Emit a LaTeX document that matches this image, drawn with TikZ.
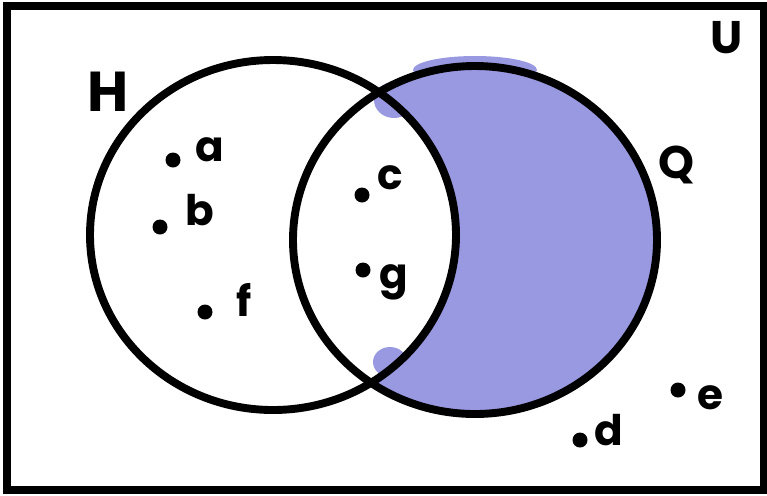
\documentclass[tikz,border=0pt]{standalone}
\usepackage{fontspec}
\setmainfont{Poppins}
\definecolor{vennblue}{RGB}{153,153,226}
\tikzset{
  dot/.style={circle, fill=black, inner sep=0pt, minimum size=0.3cm},
  lbl/.style={inner sep=0pt, font=\fontsize{24}{28}\selectfont\bfseries},
  setname/.style={inner sep=0pt, font=\fontsize{26}{30}\selectfont\bfseries},
  setline/.style={line width=4.5pt}
}
\begin{document}
\begin{tikzpicture}[x=0.02cm, y=-0.02cm]
\useasboundingbox (0,0) rectangle (767,495);
% shaded part: Q without H
\begin{scope}
\clip (475,240) ellipse [x radius=182, y radius=174];
\fill[vennblue, even odd rule] (0,0) rectangle (767,495) (273,235) ellipse [x radius=183, y radius=175];
\end{scope}
\fill[vennblue] (394,100) ellipse [x radius=20, y radius=18];
\fill[vennblue] (390,362) ellipse [x radius=17, y radius=15];
\fill[vennblue] (475,70) ellipse [x radius=62, y radius=14];
% universe and sets
\draw[setline] (7,6) rectangle (764,490);
\draw[setline] (273,235) ellipse [x radius=183, y radius=175];
\draw[setline] (475,240) ellipse [x radius=182, y radius=174];
\node[setname, font=\fontsize{32}{36}\selectfont\bfseries] (H) at (108,92) {H};
\node[setname] (U) at (727,38) {U};
\node[setname] (Q) at (676,165) {Q};
% elements
\node[dot] (da) at (173,160) {};
\node[lbl] (a) at (210,150) {a};
\node[dot] (db) at (160,227) {};
\node[lbl] (b) at (200,210) {b};
\node[dot] (df) at (205,312) {};
\node[lbl] (f) at (244,300) {f};
\node[dot] (dc) at (362,195) {};
\node[lbl] (c) at (390,178) {c};
\node[dot] (dg) at (363,270) {};
\node[lbl] (g) at (394,282) {g};
\node[dot] (dd) at (580,440) {};
\node[lbl] (d) at (609,430) {d};
\node[dot] (de) at (678,390) {};
\node[lbl] (e) at (710,398) {e};
\end{tikzpicture}
\end{document}
